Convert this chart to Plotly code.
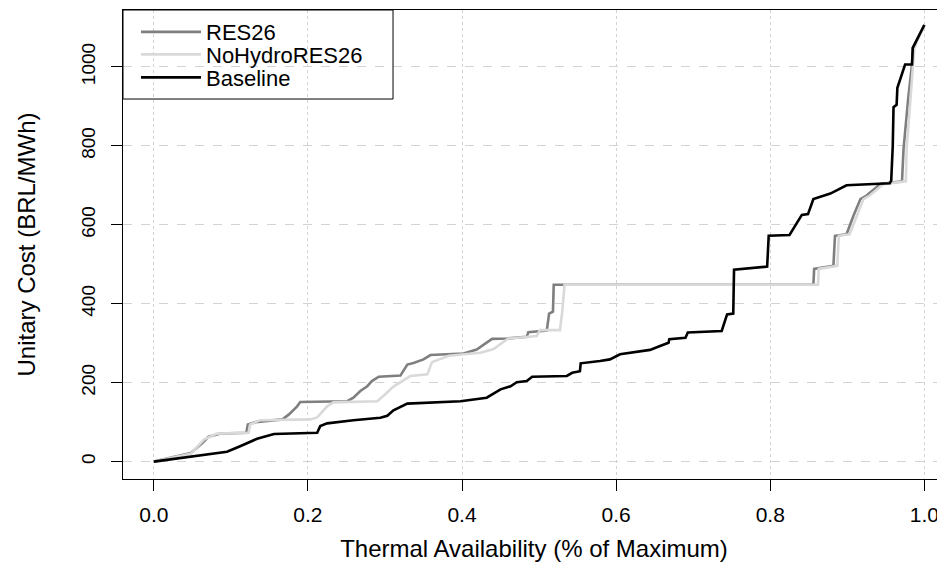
import plotly.graph_objects as go

# Thermal availability (fraction of maximum) and unitary cost (BRL/MWh)
baseline_x = [0.0, 0.095, 0.112, 0.134, 0.156, 0.212, 0.216, 0.225, 0.259, 0.294, 0.303, 0.311,
              0.329, 0.398, 0.432, 0.450, 0.463, 0.471, 0.484, 0.491, 0.536, 0.543, 0.553, 0.554,
              0.579, 0.592, 0.605, 0.618, 0.644, 0.657, 0.668, 0.669, 0.690, 0.693, 0.737, 0.744,
              0.752, 0.753, 0.796, 0.798, 0.825, 0.841, 0.849, 0.856, 0.878, 0.899, 0.955, 0.957,
              0.959, 0.960, 0.964, 0.965, 0.975, 0.984, 0.985, 1.0]
baseline_y = [0, 25, 39, 58, 70, 73, 90, 97, 105, 111, 116, 130,
              147, 153, 162, 183, 191, 201, 204, 215, 217, 225, 229, 249,
              255, 259, 272, 276, 283, 293, 301, 310, 314, 327, 331, 373,
              375, 486, 494, 572, 574, 625, 627, 665, 679, 700, 705, 712,
              800, 898, 904, 947, 1006, 1006, 1048, 1106]

res26_x = [0.0, 0.048, 0.063, 0.071, 0.087, 0.120, 0.122, 0.132, 0.167, 0.175, 0.186, 0.190,
           0.251, 0.259, 0.268, 0.277, 0.283, 0.292, 0.320, 0.329, 0.337, 0.350, 0.359, 0.402,
           0.419, 0.439, 0.458, 0.484, 0.486, 0.510, 0.513, 0.518, 0.519, 0.856, 0.857, 0.882,
           0.884, 0.899, 0.908, 0.917, 0.925, 0.943, 0.971, 0.973, 0.979, 0.984, 0.985, 1.0]
res26_y = [0, 22, 47, 63, 71, 73, 94, 100, 107, 119, 140, 151,
           153, 162, 179, 191, 204, 215, 218, 246, 250, 259, 270, 274,
           284, 311, 312, 316, 328, 332, 375, 380, 448, 448, 488, 496,
           572, 576, 623, 665, 674, 703, 710, 792, 919, 1006, 1048, 1106]

nohydro_x = [0.0, 0.048, 0.065, 0.082, 0.123, 0.125, 0.138, 0.203, 0.212, 0.225, 0.233, 0.290,
             0.300, 0.311, 0.324, 0.333, 0.355, 0.361, 0.383, 0.400, 0.424, 0.441, 0.460, 0.480,
             0.497, 0.501, 0.527, 0.530, 0.533, 0.862, 0.863, 0.887, 0.889, 0.903, 0.912, 0.921,
             0.929, 0.947, 0.976, 0.977, 0.982, 0.986, 0.987, 1.0]
nohydro_y = [0, 20, 56, 71, 73, 94, 105, 107, 112, 140, 150, 153,
             170, 190, 206, 217, 221, 252, 268, 272, 276, 285, 312, 315,
             318, 333, 333, 378, 448, 448, 488, 496, 572, 576, 623, 665,
             674, 703, 710, 792, 919, 1006, 1048, 1106]

series_names = ["RES26", "NoHydroRES26", "Baseline"]
series_colors = ["#7f7f7f", "#d9d9d9", "#000000"]

x_ticks = [0.0, 0.2, 0.4, 0.6, 0.8, 1.0]
x_tick_labels = ["0.0", "0.2", "0.4", "0.6", "0.8", "1.0"]
y_ticks = [0, 200, 400, 600, 800, 1000]

FONT = "Liberation Sans, Arial, Helvetica, sans-serif"

fig = go.Figure()
data = [(res26_x, res26_y), (nohydro_x, nohydro_y), (baseline_x, baseline_y)]
legend_ids = ["legend", "legend2", "legend3"]
for (xs, ys), name, color, lid in zip(data, series_names, series_colors, legend_ids):
    fig.add_trace(go.Scatter(x=xs, y=ys, mode="lines", name=name, legend=lid,
                             line=dict(color=color, width=2.6)))

# page is offset by the default 8px body margin; compensate in figure size/margins
legend_rows_y = [0.953, 0.905, 0.856]
legend_common = dict(x=0.0158, xanchor="left", yanchor="middle",
                     bgcolor="rgba(0,0,0,0)", borderwidth=0,
                     font=dict(family=FONT, size=22, color="#000000"),
                     itemwidth=60, tracegroupgap=0)

fig.update_layout(
    width=937, height=564,
    margin=dict(l=115, r=0, t=2, b=93, autoexpand=False),
    paper_bgcolor="white", plot_bgcolor="white",
    font=dict(family=FONT, size=20, color="#000000"),
    showlegend=True,
    legend=dict(y=legend_rows_y[0], **legend_common),
    legend2=dict(y=legend_rows_y[1], **legend_common),
    legend3=dict(y=legend_rows_y[2], **legend_common),
    shapes=[dict(type="rect", xref="paper", yref="paper",
                 x0=0, x1=0.3285, y0=0.8102, y1=1,
                 line=dict(color="#000000", width=1), fillcolor="rgba(0,0,0,0)")],
)
fig.update_xaxes(
    range=[-0.04, 1.0268], tickvals=x_ticks, ticktext=x_tick_labels,
    showline=True, linecolor="#000000", linewidth=1, mirror=True,
    ticks="outside", ticklen=11, tickcolor="#000000", tickwidth=1,
    showgrid=True, gridcolor="#d3d3d3", griddash="dot", gridwidth=1,
    zeroline=False, automargin=False, ticklabelstandoff=6,
    tickfont=dict(family=FONT, size=21),
    title=dict(text="Thermal Availability (% of Maximum)", font=dict(family=FONT, size=24), standoff=14),
)
fig.update_yaxes(
    range=[-44, 1144], tickvals=y_ticks,
    showline=True, linecolor="#000000", linewidth=1, mirror=False,
    ticks="outside", ticklen=11, tickcolor="#000000", tickwidth=1,
    showgrid=True, gridcolor="#d3d3d3", griddash="dash", gridwidth=1,
    zeroline=False, tickangle=-90, automargin=False, ticklabelstandoff=8,
    tickfont=dict(family=FONT, size=19),
    title=dict(text="Unitary Cost (BRL/MWh)", font=dict(family=FONT, size=24), standoff=36),
)

fig.write_html("out.html")
